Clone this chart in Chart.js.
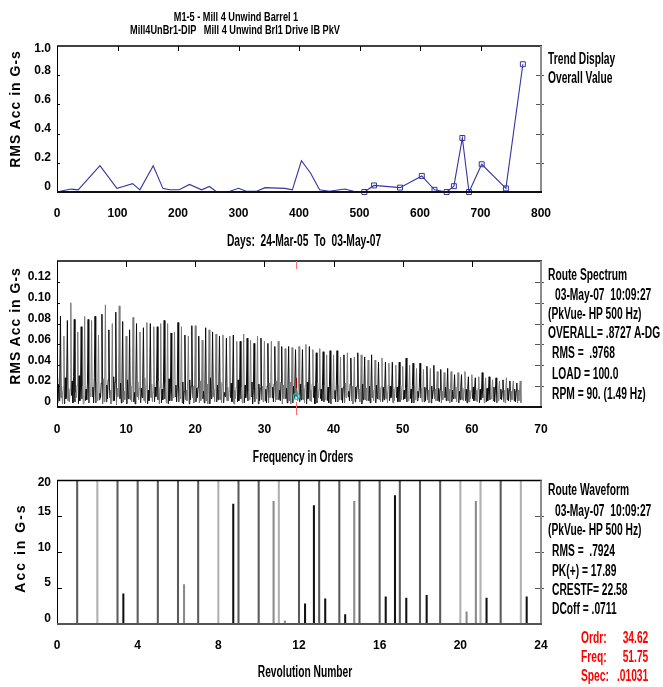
<!DOCTYPE html>
<html><head><meta charset="utf-8">
<script src="https://cdn.jsdelivr.net/npm/chart.js@4/dist/chart.umd.min.js"></script>
<style>
html,body{margin:0;padding:0;background:#fff;width:663px;height:687px;overflow:hidden}
#wrap{position:relative;width:663px;height:687px}
canvas{position:absolute;left:0}
.t{position:absolute;white-space:pre;font-weight:bold;color:#000;line-height:20px}
</style></head><body><div id="wrap">
<canvas id="c1" width="663" height="232" style="top:0px"></canvas>
<canvas id="c2" width="663" height="200" style="top:245px"></canvas>
<canvas id="c3" width="663" height="200" style="top:460px"></canvas>
</div>
<script>
// ---------------- DATA ----------------
// Trend display (days since 24-Mar-05, overall RMS acc in G-s)
const trendDays   = [0, 13, 24, 35, 71, 99, 111, 125, 137, 159, 175, 186, 202, 219, 239, 252, 264, 286, 300, 313, 330, 344, 355, 377, 389, 404, 419, 434, 450, 476, 490, 508, 524, 567, 603, 624, 644, 656, 670, 681, 702, 742, 770];
const trendValues = [0, 0.012, 0.02, 0.015, 0.18, 0.025, 0.04, 0.057, 0.015, 0.18, 0.025, 0.015, 0.015, 0.052, 0.015, 0.038, 0, 0.005, 0.025, 0.005, 0.005, 0.03, 0.028, 0.025, 0.015, 0.214, 0.13, 0.015, 0.005, 0.02, 0.005, 0, 0.045, 0.03, 0.11, 0.015, 0, 0.04, 0.37, 0, 0.19, 0.025, 0.875];
const trendMarkFrom = 500;  // points from this day on are drawn with square markers
const trendXTicks = [0, 800, 100];
const trendYTicks = [0, 1.0, 0.2];

// Route spectrum: spike peaks every 0.5 orders, with troughs and noise bumps between
const specStart = 0.028;
const specEnd = 0.004;
const specPeaks = [
 0.087,0.068,0.083,0.100,0.084,0.072,0.077,0.087,0.084,0.083,0.087,0.069,0.089,0.098,0.074,0.080,0.091,0.097,0.082,0.068,
 0.074,0.086,0.080,0.072,0.076,0.081,0.080,0.077,0.077,0.080,0.083,0.080,0.071,
 0.072,0.081,0.077,0.069,0.068,0.078,0.078,0.068,0.064,0.076,0.074,0.072,0.070,0.068,0.069,0.066,0.068,0.069,0.063,0.063,
 0.070,0.066,0.064,0.061,0.068,0.066,0.063,0.061,0.063,0.058,0.063,0.058,0.056,
 0.058,0.057,0.055,0.058,0.055,0.060,0.058,0.055,0.052,0.056,0.053,0.050,0.054,0.050,0.054,0.048,0.050,0.052,0.047,0.048,
 0.052,0.050,0.048,0.045,0.050,0.045,0.043,0.047,0.043,0.042,0.043,0.040,0.043,0.039,
 0.047,0.040,0.042,0.037,0.042,0.036,0.039,0.037,0.040,0.034,0.036,0.033,0.037,0.034,0.031,0.033,0.031,0.034,0.029,0.031,
 0.028,0.029,0.033,0.028,0.029,0.026,0.028,0.025,0.026,0.028,0.025,0.025,0.023,0.025];
const specTroughs = [
 0.004,0.009,0.003,0.006,0.011,0.005,0.003,0.008,0.006,0.004, 0.010,0.004,0.007,0.003,0.005,0.009,0.006,0.002,0.008,0.005,
 0.003,0.007,0.005,0.010,0.004,0.006,0.003,0.009,0.005,0.007, 0.004,0.008,0.003,0.006,0.010,0.005,0.004,0.007,0.003,0.009,
 0.005,0.004,0.008,0.006,0.003,0.010,0.005,0.007,0.004,0.006, 0.009,0.003,0.005,0.008,0.004,0.006,0.010,0.005,0.003,0.007,
 0.006,0.004,0.009,0.005,0.007,0.003,0.008,0.006,0.004,0.010, 0.005,0.007,0.003,0.006,0.009,0.004,0.008,0.005,0.006,0.003,
 0.008,0.005,0.007,0.004,0.010,0.006,0.005,0.008,0.003,0.007, 0.006,0.009,0.004,0.007,0.005,0.008,0.006,0.004,0.009,0.005,
 0.007,0.005,0.008,0.004,0.006,0.009,0.005,0.007,0.004,0.008, 0.006,0.004,0.009,0.006,0.005,0.008,0.004,0.007,0.006,0.005,
 0.008,0.006,0.004,0.009,0.005,0.007,0.006,0.004,0.008,0.005, 0.007,0.005,0.006,0.004];
const specBumps = [
 0.022,0.015,0.028,0.018,0.025,0.014,0.030,0.020,0.017,0.026, 0.019,0.024,0.013,0.027,0.021,0.016,0.029,0.018,0.023,0.015,
 0.026,0.020,0.014,0.024,0.018,0.028,0.016,0.022,0.019,0.025, 0.017,0.023,0.027,0.015,0.021,0.019,0.024,0.016,0.026,0.020,
 0.018,0.025,0.015,0.022,0.028,0.017,0.021,0.024,0.014,0.019, 0.023,0.016,0.026,0.019,0.021,0.015,0.024,0.018,0.022,0.020,
 0.017,0.023,0.019,0.025,0.016,0.021,0.018,0.024,0.020,0.015, 0.022,0.018,0.024,0.016,0.020,0.023,0.017,0.021,0.019,0.022,
 0.016,0.021,0.018,0.023,0.015,0.020,0.019,0.017,0.022,0.018, 0.020,0.016,0.021,0.018,0.019,0.015,0.020,0.017,0.019,0.021,
 0.016,0.019,0.017,0.020,0.015,0.018,0.019,0.016,0.020,0.017, 0.018,0.015,0.019,0.017,0.016,0.019,0.015,0.018,0.017,0.016,
 0.019,0.016,0.017,0.015,0.018,0.016,0.019,0.015,0.017,0.016, 0.018,0.015,0.017,0.016];
const specTroughs2 = [
 0.006,0.003,0.008,0.005,0.004,0.009,0.006,0.003,0.007,0.010, 0.004,0.006,0.009,0.005,0.008,0.003,0.006,0.010,0.004,0.007,
 0.008,0.005,0.003,0.007,0.009,0.004,0.006,0.005,0.010,0.003, 0.007,0.004,0.006,0.009,0.005,0.008,0.003,0.006,0.007,0.004,
 0.009,0.006,0.004,0.003,0.008,0.005,0.007,0.004,0.010,0.006, 0.005,0.008,0.006,0.004,0.009,0.007,0.003,0.008,0.006,0.005,
 0.004,0.009,0.005,0.007,0.006,0.008,0.004,0.003,0.009,0.006, 0.007,0.004,0.008,0.005,0.003,0.009,0.006,0.007,0.004,0.008,
 0.005,0.007,0.004,0.009,0.006,0.003,0.008,0.005,0.007,0.006, 0.004,0.006,0.008,0.005,0.007,0.004,0.009,0.006,0.005,0.007,
 0.008,0.006,0.004,0.007,0.009,0.005,0.006,0.004,0.008,0.006, 0.005,0.007,0.006,0.004,0.008,0.005,0.007,0.006,0.004,0.008,
 0.006,0.005,0.007,0.004,0.006,0.008,0.005,0.006,0.007,0.004, 0.006,0.007,0.005,0.006];
const specBumps2 = [
 0.027,0.019,0.024,0.016,0.029,0.021,0.018,0.025,0.022,0.014, 0.028,0.017,0.023,0.020,0.026,0.015,0.024,0.019,0.027,0.021,
 0.016,0.025,0.022,0.018,0.027,0.020,0.023,0.014,0.026,0.019, 0.024,0.021,0.017,0.026,0.019,0.023,0.015,0.025,0.020,0.022,
 0.019,0.016,0.024,0.021,0.017,0.025,0.018,0.022,0.020,0.015, 0.022,0.019,0.017,0.024,0.020,0.023,0.016,0.021,0.018,0.025,
 0.020,0.017,0.022,0.019,0.024,0.016,0.021,0.018,0.023,0.020, 0.018,0.021,0.016,0.022,0.019,0.017,0.023,0.018,0.020,0.016,
 0.021,0.017,0.019,0.016,0.022,0.018,0.020,0.015,0.019,0.021, 0.017,0.019,0.016,0.020,0.018,0.021,0.016,0.019,0.017,0.020,
 0.018,0.016,0.020,0.017,0.019,0.015,0.018,0.020,0.016,0.019, 0.017,0.019,0.016,0.018,0.015,0.017,0.019,0.016,0.018,0.015,
 0.017,0.018,0.016,0.019,0.015,0.017,0.016,0.018,0.015,0.017, 0.016,0.018,0.015,0.017];
const specLinesPerHalfOrder = 5;
const cursorOrder = 34.62;
const cursorSpec = 0.01031;
const specXTicks = [0, 70, 10];
const specYTicks = [0, 0.14, 0.02];

// Route waveform (revolution number, acc in G-s)
const tachRevs = [1,2,3,4,5,6,7,8,9,10,11,12,13,14,15,16,17,18,19,20,21,22,23];
const tachLevel = 20;
const lightTach = [2, 8, 11, 20, 21, 23];
const spikeRevs = [3.29, 6.30, 8.74, 10.74, 11.30, 12.30, 12.74, 13.30, 14.29, 14.74, 16.30, 16.76, 17.32, 18.33, 20.31, 20.77, 21.30, 23.29];
const spikeAcc  = [4.2, 5.5, 16.7, 17.1, 0.45, 2.8, 16.5, 3.5, 1.3, 17.1, 3.8, 17.89, 3.6, 4.0, 1.7, 17.1, 3.6, 3.8];
const graySpikes = [6.30, 10.74, 11.30, 14.74, 20.31, 20.77];
const waveXTicks = [0, 24, 4];
const waveYTicks = [0, 20, 5];

// ---------------- FONTS ----------------
function hasFont(name){
  const c=document.createElement('canvas').getContext('2d');
  const s='abcdefghijkMW0123456789';
  c.font='bold 40px monospace'; const a=c.measureText(s).width;
  c.font='bold 40px "'+name+'", monospace'; return c.measureText(s).width!==a;
}
const NARROW = hasFont('Liberation Sans Narrow');
const FAM = NARROW ? '"Liberation Sans Narrow", sans-serif' : '"Liberation Sans", sans-serif';
const SX = NARROW ? 1 : 0.82;
const wrap = document.getElementById('wrap');
function txt(s, x, y, o){
  o=o||{};
  const d=document.createElement('div'); d.className='t'; d.textContent=s;
  const size=o.size||12.5, sy=o.sy||1.28;
  d.style.font='bold '+size+'px '+FAM; d.style.lineHeight='20px';
  d.style.top=(y-10)+'px'; d.style.color=o.color||'#000';
  if(o.align==='center'){ d.style.left=x+'px'; d.style.transformOrigin='0 50%'; d.style.transform='scale('+SX+','+sy+') translateX(-50%)'; }
  else if(o.align==='right'){ d.style.right=(663-x)+'px'; d.style.transformOrigin='100% 50%'; d.style.transform='scale('+SX+','+sy+')'; }
  else { d.style.left=x+'px'; d.style.transformOrigin='0 50%'; d.style.transform='scale('+SX+','+sy+')'; }
  wrap.appendChild(d);
}
function vtxt(s, x, y, ls){
  const d=document.createElement('div'); d.className='t'; d.textContent=s;
  d.style.font='bold 14px "Liberation Sans", Arial, sans-serif'; d.style.letterSpacing=ls+'px';
  d.style.left=x+'px'; d.style.top=y+'px'; d.style.transform='translate(-50%,-50%) rotate(-90deg)';
  wrap.appendChild(d);
}

// ---------------- TEXT ----------------
txt('M1-5 - Mill 4 Unwind Barrel 1', 235.5, 15.5, {align:'center', size:11.2, sy:1.15});
txt('Mill4UnBr1-DIP   Mill 4 Unwind Brl1 Drive IB PkV', 234.5, 28.5, {align:'center', size:11.2, sy:1.15});
txt('Trend Display', 548, 59); txt('Overall Value', 548, 78);
txt('Days:  24-Mar-05  To  03-May-07', 304, 241, {align:'center'});
txt('Frequency in Orders', 303, 456.5, {align:'center'});
txt('Revolution Number', 305, 672, {align:'center'});
[['Route Spectrum',548,275],['03-May-07  10:09:27',555,295],['(PkVue- HP 500 Hz)',548,314],['OVERALL= .8727 A-DG',548,333],
 ['RMS =  .9768',552,353],['LOAD = 100.0',552,374],['RPM = 90. (1.49 Hz)',552,394]].forEach(a=>txt(a[0],a[1],a[2]));
[['Route Waveform',548,490],['03-May-07  10:09:27',555,511],['(PkVue- HP 500 Hz)',548,530],['RMS =  .7924',552,551],
 ['PK(+) = 17.89',552,571],['CRESTF= 22.58',552,590],['DCoff = .0711',552,609]].forEach(a=>txt(a[0],a[1],a[2]));
[['Ordr:','34.62',638],['Freq:','51.75',657],['Spec:','.01031',676]].forEach(a=>{
  txt(a[0],581,a[2],{color:'#ff0000'}); txt(a[1],648,a[2],{color:'#ff0000',align:'right'});
});
vtxt('RMS Acc in G-s', 15, 109, 1);
vtxt('RMS Acc in G-s', 15, 326, 1);
vtxt('Acc in G-s', 20, 548, 2);

// ---------------- CHART HELPERS ----------------
Chart.defaults.animation = false;
Chart.defaults.color = '#000';
const XFONT = NARROW ? {family:'Liberation Sans Narrow', size:14.5, weight:'bold'} : {family:'Liberation Sans', size:12, weight:'bold'};
const YFONT = {family:'Liberation Sans', size:12, weight:'bold'};
function xScale(t, pad, h){
  return {type:'linear', min:t[0], max:t[1], offset:false, grid:{display:false, drawTicks:false}, border:{display:false},
    ticks:{stepSize:t[2], autoSkip:false, maxRotation:0, padding:pad, font:XFONT, color:'#000'},
    afterFit(s){ s.height=h; }};
}
function yScale(t, fmt){
  return {type:'linear', min:t[0], max:t[1], grid:{display:false, drawTicks:false}, border:{display:false},
    ticks:{stepSize:t[2], autoSkip:false, padding:6, labelOffset:-5, font:YFONT, color:'#000',
      // the top label sits lower (pushed into the plot frame), as in the reference
      callback:(v)=>{ const s=fmt(v); return (v>=t[1]-1e-9 && s!=='') ? ['', s] : s; }},
    afterFit(s){ s.width=57; }};
}
function ln(ctx,x1,y1,x2,y2){ ctx.beginPath(); ctx.moveTo(x1,y1); ctx.lineTo(x2,y2); ctx.stroke(); }
const framePlugin = {
  id:'frame',
  afterDatasetsDraw(chart, args, o){
    const ctx=chart.ctx, a=chart.chartArea, x=chart.scales.x, y=chart.scales.y;
    ctx.save();
    ctx.lineWidth=1; ctx.strokeStyle='#000';
    if(o.topTicks) x.ticks.forEach(t=>{ if(t.value<=x.min||t.value>=x.max) return;
      const p=Math.round(x.getPixelForValue(t.value))+0.5; ln(ctx,p,a.top,p,a.top+o.topTicks); });
    if(o.leftTicks) y.ticks.forEach(t=>{ if(t.value<=y.min||t.value>=y.max) return;
      const p=Math.round(y.getPixelForValue(t.value))+0.5; ln(ctx,a.left,p,a.left+o.leftTicks,p); });
    ctx.strokeStyle='#555';
    if(o.rightTicks) y.ticks.forEach(t=>{ if(t.value<=y.min||t.value>=y.max) return;
      const p=Math.round(y.getPixelForValue(t.value))+0.5; ln(ctx,a.right-o.rightTicks,p,a.right+3,p); });
    // borders
    ctx.strokeStyle='#000'; ctx.lineWidth=1.5; ln(ctx,a.left,a.top,a.right+1,a.top);
    ctx.lineWidth=1; ln(ctx,a.left+0.5,a.top,a.left+0.5,a.bottom);
    ctx.strokeStyle='#8c8c8c'; ctx.lineWidth=2; ln(ctx,a.right,a.top,a.right,a.bottom+1);
    ctx.strokeStyle=o.bottomColor||'#111'; ctx.lineWidth=2; ln(ctx,a.left,a.bottom,a.right+1,a.bottom);
    ctx.restore();
  }
};
const cursorPlugin = {
  id:'cursor',
  afterDatasetsDraw(chart){
    const ctx=chart.ctx, a=chart.chartArea, x=chart.scales.x, y=chart.scales.y;
    const p=Math.round(x.getPixelForValue(cursorOrder))+0.5;
    ctx.save(); ctx.lineWidth=1;
    ctx.strokeStyle='#ff6a6a'; ln(ctx,p,a.top,p,a.top+8); ln(ctx,p,a.bottom-5,p,a.bottom+8);
    ctx.strokeStyle='#a00000'; ln(ctx,p,y.getPixelForValue(0.028),p,y.getPixelForValue(0.018));
    ctx.strokeStyle='#00c8c8'; ctx.lineWidth=1.2; ctx.beginPath(); ctx.arc(p,y.getPixelForValue(cursorSpec),3,0,Math.PI*2); ctx.stroke();
    ctx.restore();
  }
};
const common = {responsive:false, devicePixelRatio:1, animation:false,
  plugins:{legend:{display:false}, tooltip:{enabled:false}}};

// ---------------- CHART 1: TREND ----------------
new Chart(document.getElementById('c1'), {
  type:'line',
  data:{datasets:[{data:trendDays.map((d,i)=>({x:d, y:trendValues[i]})), borderColor:'#3434a4', borderWidth:1.1, tension:0,
    pointStyle:'rect', pointRadius:c=>trendDays[c.dataIndex]>=trendMarkFrom?3.5:0, pointBorderColor:'#3434a4',
    pointBackgroundColor:'rgba(0,0,0,0)', pointBorderWidth:1, clip:false}]},
  options:Object.assign({}, common, {
    layout:{padding:{top:46, right:122, left:0, bottom:0}},
    scales:{x:xScale(trendXTicks, 14, 40), y:yScale(trendYTicks, v=>v===0?'0':v.toFixed(1))},
    plugins:Object.assign({}, common.plugins, {frame:{topTicks:5, leftTicks:3, rightTicks:5}})
  }),
  plugins:[framePlugin]
});

// ---------------- CHART 2: SPECTRUM ----------------
const specSeq = [specStart];
for(let k=0;k<specPeaks.length;k++){ specSeq.push(specTroughs[k], specBumps[k], specTroughs2[k], specBumps2[k], specPeaks[k]); }
specSeq.push(specEnd);
const specData = specSeq.map((v,i)=>({x:i*0.5/specLinesPerHalfOrder, y:v}));
new Chart(document.getElementById('c2'), {
  type:'line',
  data:{datasets:[{data:specData, borderWidth:1, tension:0, pointRadius:0, borderColor:'#111',
    segment:{borderColor:c=>Math.floor((c.p0DataIndex-1)/specLinesPerHalfOrder)%2 ? '#7a7a7a' : '#0c0c0c'}}]},
  options:Object.assign({}, common, {
    layout:{padding:{top:16, right:122, left:0, bottom:0}},
    scales:{x:xScale(specXTicks, 15, 38), y:yScale(specYTicks, v=>v>0.13?'':(v===0?'0':v.toFixed(2)))},
    plugins:Object.assign({}, common.plugins, {frame:{topTicks:6, leftTicks:3, rightTicks:6}})
  }),
  plugins:[framePlugin, cursorPlugin]
});

// ---------------- CHART 3: WAVEFORM ----------------
new Chart(document.getElementById('c3'), {
  type:'bar',
  data:{datasets:[
    {data:tachRevs.map(r=>({x:r, y:tachLevel})), barThickness:1.4, grouped:false,
      backgroundColor:tachRevs.map(r=>lightTach.includes(r)?'#b0b0b0':'#5a5a5a')},
    {data:spikeRevs.map((r,i)=>({x:r, y:spikeAcc[i]})), barThickness:1.4, grouped:false,
      backgroundColor:spikeRevs.map(r=>graySpikes.includes(r)?'#8a8a8a':'#111')}
  ]},
  options:Object.assign({}, common, {
    layout:{padding:{top:18, right:122, left:0, bottom:0}},
    scales:{x:xScale(waveXTicks, 14, 36), y:yScale(waveYTicks, v=>String(v))},
    plugins:Object.assign({}, common.plugins, {frame:{topTicks:0, leftTicks:5, rightTicks:6, bottomColor:'#555'}})
  }),
  plugins:[framePlugin]
});
</script></body></html>
